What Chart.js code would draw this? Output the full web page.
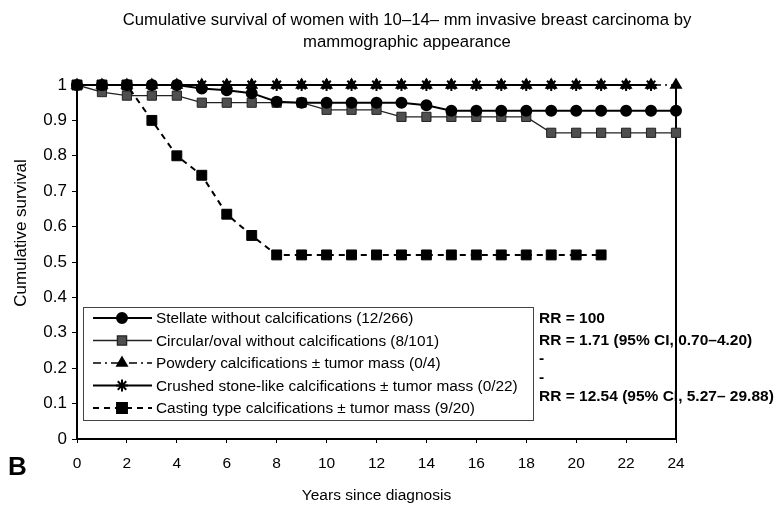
<!DOCTYPE html>
<html>
<head>
<meta charset="utf-8">
<script src="https://cdn.jsdelivr.net/npm/chart.js@4/dist/chart.umd.min.js"></script>
<style>
  html, body { margin: 0; padding: 0; background: #fff; }
</style>
</head>
<body>
<canvas id="survivalChart" width="783" height="505"></canvas>
<script>
// Years since diagnosis (x values)
const years = [0, 1, 2, 3, 4, 5, 6, 7, 8, 9, 10, 11, 12, 13, 14, 15, 16, 17, 18, 19, 20, 21, 22, 23, 24];

// Cumulative survival per group
const stellate = [1, 1, 1, 1, 1, 0.99, 0.985, 0.977, 0.953, 0.95, 0.95, 0.95, 0.95, 0.95, 0.943,
                  0.927, 0.927, 0.927, 0.927, 0.927, 0.927, 0.927, 0.927, 0.927, 0.927];
const circular = [1, 0.98, 0.97, 0.97, 0.97, 0.95, 0.95, 0.95, 0.95, 0.95, 0.93, 0.93, 0.93, 0.91, 0.91,
                  0.91, 0.91, 0.91, 0.91, 0.865, 0.865, 0.865, 0.865, 0.865, 0.865];
const powdery = [1, 1, 1, 1, 1, 1, 1, 1, 1, 1, 1, 1, 1, 1, 1, 1, 1, 1, 1, 1, 1, 1, 1, 1, 1];
const crushed = [1, 1, 1, 1, 1, 1, 1, 1, 1, 1, 1, 1, 1, 1, 1, 1, 1, 1, 1, 1, 1, 1, 1, 1];
const casting = [1, 1, 1, 0.9, 0.8, 0.745, 0.635, 0.575, 0.52, 0.52, 0.52, 0.52, 0.52, 0.52, 0.52,
                 0.52, 0.52, 0.52, 0.52, 0.52, 0.52, 0.52];

// vertical drop at the end of follow-up
const dropYears = [24, 24];
const dropValues = [1, 0];

const seriesLabels = [
    'Stellate without calcifications (12/266)',
    'Circular/oval without calcifications (8/101)',
    'Powdery calcifications \u00b1 tumor mass (0/4)',
    'Crushed stone-like calcifications \u00b1 tumor mass (0/22)',
    'Casting type calcifications \u00b1 tumor mass (9/20)'
];
const rrLabels = [
    'RR = 100',
    'RR = 1.71 (95% CI, 0.70\u20134.20)',
    '-',
    '-',
    'RR = 12.54 (95% CI, 5.27\u2013 29.88)'
];
const titleLines = [
    'Cumulative survival of women with 10\u201314\u2013 mm invasive breast carcinoma by',
    'mammographic appearance'
];
const yTitle = 'Cumulative survival';

const FONT = "'Liberation Sans', Arial, sans-serif";

function toPoints(values) {
    return values.map((v, i) => ({ x: years[i], y: v }));
}

const datasets = [
    {
        label: seriesLabels[0], data: toPoints(stellate), order: 3,
        borderColor: '#000', borderWidth: 2,
        pointStyle: 'circle', pointRadius: 5, pointBackgroundColor: '#000', pointBorderColor: '#000'
    },
    {
        label: seriesLabels[1], data: toPoints(circular), order: 4,
        borderColor: '#222', borderWidth: 1.3,
        pointStyle: 'rect', pointRadius: 6.5, pointBackgroundColor: '#4f4f4f', pointBorderColor: '#222', pointBorderWidth: 1
    },
    {
        label: seriesLabels[2], data: toPoints(powdery), order: 2,
        borderColor: '#000', borderWidth: 1.5, borderDash: [8, 4, 2, 4],
        pointStyle: 'triangle', pointRadius: 6, pointBackgroundColor: '#000', pointBorderColor: '#000'
    },
    {
        label: seriesLabels[3], data: toPoints(crushed), order: 1,
        borderColor: '#000', borderWidth: 2,
        pointStyle: 'star', pointRadius: 6, pointBorderWidth: 2, pointBackgroundColor: '#000', pointBorderColor: '#000'
    },
    {
        label: seriesLabels[4], data: toPoints(casting), order: 0,
        borderColor: '#000', borderWidth: 2, borderDash: [6, 5],
        pointStyle: 'rect', pointRadius: 7, pointBackgroundColor: '#000', pointBorderColor: '#000', pointBorderWidth: 1
    },
    {
        label: '', data: dropYears.map((x, i) => ({ x: x, y: dropValues[i] })), order: 5,
        borderColor: '#000', borderWidth: 2, pointRadius: 0, isDrop: true
    }
];
datasets.forEach(d => { d.fill = false; d.tension = 0; d.clip = false; });

// draws title, y title, the boxed legend inside the plot, the RR notes and the panel letter
const figureText = {
    id: 'figureText',
    afterDatasetsDraw(chart) {
        const ctx = chart.ctx;
        ctx.save();
        ctx.fillStyle = '#000';
        ctx.textBaseline = 'middle';

        // title
        ctx.textAlign = 'center';
        ctx.font = '16.7px ' + FONT;
        ctx.fillText(titleLines[0], 407, 20);
        ctx.fillText(titleLines[1], 407, 42);

        // y axis title
        ctx.save();
        ctx.translate(21, 233);
        ctx.rotate(-Math.PI / 2);
        ctx.font = '17px ' + FONT;
        ctx.fillText(yTitle, 0, 0);
        ctx.restore();

        // legend box
        const box = { x: 83, y: 307, w: 450, h: 113 };
        ctx.fillStyle = '#fff';
        ctx.fillRect(box.x, box.y, box.w, box.h);
        ctx.strokeStyle = '#444';
        ctx.lineWidth = 1;
        ctx.strokeRect(box.x + 0.5, box.y + 0.5, box.w, box.h);

        ctx.textAlign = 'left';
        ctx.font = '15.4px ' + FONT;
        chart.data.datasets.forEach((ds, i) => {
            if (ds.isDrop) return;
            const y = 318 + i * 22.5;
            ctx.save();
            ctx.strokeStyle = ds.borderColor;
            ctx.lineWidth = ds.borderWidth;
            ctx.setLineDash(ds.borderDash || []);
            ctx.beginPath();
            ctx.moveTo(93, y);
            ctx.lineTo(152, y);
            ctx.stroke();
            ctx.setLineDash([]);
            ctx.fillStyle = ds.pointBackgroundColor;
            ctx.strokeStyle = ds.pointBorderColor;
            Chart.helpers.drawPoint(ctx, {
                pointStyle: ds.pointStyle,
                radius: ds.pointRadius,
                rotation: 0,
                borderWidth: ds.pointBorderWidth || 1
            }, 122, y);
            ctx.restore();
            ctx.fillStyle = '#000';
            ctx.fillText(ds.label, 156, y + 1);
        });

        // relative risk notes
        ctx.font = 'bold 15.5px ' + FONT;
        const rrY = [319, 341, 359, 378, 397];
        rrLabels.forEach((t, i) => ctx.fillText(t, 539, rrY[i]));

        // panel letter
        ctx.font = 'bold 26px ' + FONT;
        ctx.fillText('B', 8, 468);
        ctx.restore();
    }
};

const ctx = document.getElementById('survivalChart').getContext('2d');
new Chart(ctx, {
    type: 'line',
    data: { datasets: datasets },
    options: {
        responsive: false,
        animation: false,
        layout: { padding: { left: 8, top: 85, right: 107, bottom: 0 } },
        plugins: {
            legend: { display: false },
            title: { display: false },
            tooltip: { enabled: false }
        },
        scales: {
            x: {
                type: 'linear',
                min: 0,
                max: 24,
                afterFit: function (scale) { scale.height = 66; },
                border: { display: true, color: '#000', width: 2 },
                grid: { drawOnChartArea: false, drawTicks: true, tickLength: 4, color: '#000' },
                ticks: {
                    stepSize: 2,
                    padding: 11,
                    color: '#000',
                    font: { family: FONT, size: 15.5 },
                    maxRotation: 0
                },
                title: {
                    display: true,
                    text: 'Years since diagnosis',
                    color: '#000',
                    font: { family: FONT, size: 15.5 },
                    padding: { top: 4, bottom: 0 }
                }
            },
            y: {
                min: 0,
                max: 1,
                afterFit: function (scale) { scale.width = 69; },
                border: { display: true, color: '#000', width: 2 },
                grid: { drawOnChartArea: false, drawTicks: true, tickLength: 5, color: '#000' },
                ticks: {
                    stepSize: 0.1,
                    padding: 5,
                    color: '#000',
                    font: { family: FONT, size: 17 },
                    callback: function (value) { return String(+value.toFixed(1)); }
                },
                title: { display: false }
            }
        }
    },
    plugins: [figureText]
});
</script>
</body>
</html>
